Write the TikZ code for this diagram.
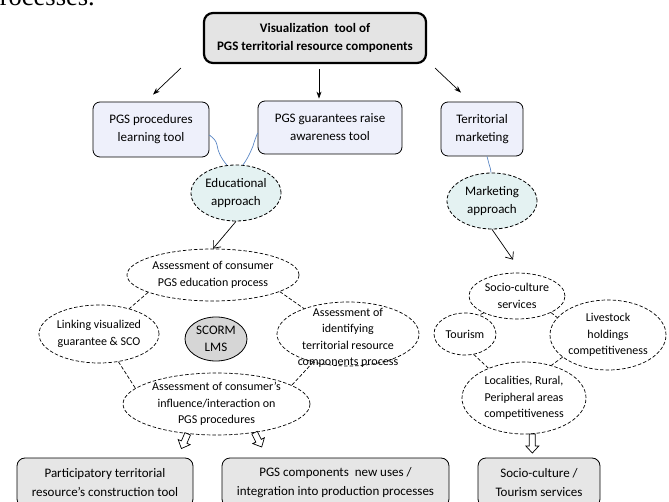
\documentclass[tikz,border=0pt]{standalone}
\usepackage{fontspec}
\setmainfont{Carlito}
\newfontfamily\bodyserif{Liberation Serif}
\usetikzlibrary{shapes.geometric,arrows.meta}

\definecolor{headfill}{HTML}{E4E4E4}
\definecolor{toolfill}{HTML}{EEF0FB}
\definecolor{approachfill}{HTML}{E4F2F2}
\definecolor{lmsfill}{HTML}{D6D6D6}
\definecolor{outfill}{HTML}{E6E6E6}
\definecolor{wireblue}{HTML}{5B87C5}

\begin{document}
\begin{tikzpicture}[x=1pt,y=-1pt,
  every node/.style={inner sep=0pt, align=center},
  headbox/.style={draw, line width=2.2pt, rounded corners=9pt, fill=headfill,
    font=\fontsize{13}{18}\selectfont\bfseries},
  toolbox/.style={draw, line width=0.8pt, rounded corners=7pt, fill=toolfill,
    font=\fontsize{13}{18}\selectfont},
  approach/.style={ellipse, draw, line width=0.8pt, dash pattern=on 3.5pt off 2pt,
    fill=approachfill, inner sep=-30pt, font=\fontsize{13}{18}\selectfont},
  facet/.style={ellipse, draw, line width=0.7pt, dash pattern=on 3.5pt off 2pt,
    inner sep=-30pt, font=\fontsize{12}{16.5}\selectfont},
  lms/.style={ellipse, draw, line width=0.8pt, fill=lmsfill, inner sep=-30pt,
    font=\fontsize{13}{17}\selectfont},
  outbox/.style={draw, line width=0.8pt, rounded corners=8pt, fill=outfill,
    font=\fontsize{13}{19}\selectfont},
  flow/.style={-{Stealth[length=7pt,width=5pt]}, line width=0.7pt},
  flowopen/.style={-{Straight Barb[length=6pt,width=10pt]}, line width=0.7pt},
  tie/.style={line width=0.7pt, dash pattern=on 3.5pt off 2pt},
  wire/.style={wireblue, line width=0.7pt},
  pics/hollow/.style={code={
    \draw[line width=0.7pt, fill=white, line join=miter]
      (0,-3) -- (#1-7,-3) -- (#1-7,-6.5) -- (#1,0) -- (#1-7,6.5) -- (#1-7,3) -- (0,3) -- cycle;}}
]
\useasboundingbox (0,0) rectangle (669,502);
\clip (0,0) rectangle (669,502);

% running text of the page above the figure
\node[anchor=base east, font=\bodyserif\fontsize{26.5}{30}\selectfont] (para) at (95,6) {processes.};

% head of the tree
\node[headbox, minimum width=222pt, minimum height=50pt] (top) at (315,38)
  {Visualization\ \ tool of\\PGS territorial resource components};

% tools
\node[toolbox, minimum width=116pt, minimum height=55pt] (b1) at (151,129.5)
  {PGS procedures\\learning tool};
\node[toolbox, minimum width=144pt, minimum height=53pt] (b2) at (330,127.5)
  {PGS guarantees raise\\awareness tool};
\node[toolbox, minimum width=82pt, minimum height=54pt] (b3) at (482,129)
  {Territorial\\marketing};

% approaches
\node[approach, minimum width=90pt, minimum height=56pt] (edu) at (236,193)
  {Educational\\approach};
\node[approach, minimum width=90pt, minimum height=56pt] (mkt) at (492,201)
  {Marketing\\approach};

% educational branch
\node[facet, minimum width=172pt, minimum height=52pt] (assess) at (213,275)
  {Assessment of consumer\\PGS education process};
\node[facet, minimum width=120pt, minimum height=58pt] (link) at (99,334)
  {Linking visualized\\guarantee \& SCO};
\node[lms, minimum width=62pt, minimum height=44pt] (scorm) at (216,339)
  {SCORM\\LMS};
% the four lines sit a little low in this ellipse
\node[facet, minimum width=142pt, minimum height=64pt] (ident) at (348,334)
  {\raisebox{-6.5pt}[0pt][0pt]{\begin{tabular}{@{}c@{}}Assessment of\\identifying\\territorial resource\\components process\end{tabular}}};
\node[facet, minimum width=187pt, minimum height=62pt] (cons) at (216.5,404)
  {Assessment of consumer's\\influence/interaction on\\PGS procedures};

% marketing branch
\node[facet, minimum width=96pt, minimum height=46pt] (socio) at (517,296)
  {Socio-culture\\services};
\node[facet, minimum width=62pt, minimum height=42pt] (tour) at (465,334)
  {Tourism};
\node[facet, minimum width=116pt, minimum height=70pt] (live) at (608,335)
  {Livestock\\holdings\\competitiveness};
\node[facet, minimum width=124pt, minimum height=72pt] (loc) at (524,398)
  {Localities, Rural,\\Peripheral areas\\competitiveness};

% outcomes
\node[outbox, minimum width=176pt, minimum height=49pt] (outa) at (105,482.5)
  {Participatory territorial\\resource's construction tool};
\node[outbox, minimum width=227pt, minimum height=49pt] (outb) at (335.5,482.5)
  {PGS components\ \ new uses /\\integration into production processes};
\node[outbox, minimum width=122pt, minimum height=49pt] (outc) at (539,482.5)
  {Socio-culture /\\Tourism services};

% arrows from the head
\draw[flow] ([shift={(-22,4)}]top.south west) -- ([shift={(2,-7)}]b1.north);
\draw[flow] ([shift={(4,5)}]top.south) -- ([shift={(-11,-2)}]b2.north);
\draw[flow] ([shift={(8,4)}]top.south east) -- ([shift={(-21,-9)}]b3.north);

% blue ties from tools to approaches
\coordinate (w1) at (217,145);
\coordinate (w2) at (253,146);
\coordinate (w3) at (489,164);
\draw[wire] ([shift={(0,5.5)}]b1.east) .. controls (213,138) and (216,140) .. (w1)
  .. controls (218,152) and (221,158) .. (edu.108);
\draw[wire] ([shift={(0,5.5)}]b2.west) .. controls (256,137) and (254,142) .. (w2)
  .. controls (251,151) and (248,158) .. (edu.76);
\draw[wire] ([shift={(5,0)}]b3.south) .. controls (489,159) and (487,161) .. (w3)
  .. controls (490,167) and (491,170) .. (mkt.92);

% approaches to their facets
\draw[flowopen] (edu.south) -- (assess.north);
\draw[flowopen] (mkt.south) -- ([shift={(-4,-13)}]socio.north);

% dashed links between facets
\draw[tie] (assess.195) -- (link.40);
\draw[tie] (assess.-14) -- (ident.150);
\draw[tie] (link.305) -- (cons.169);
\draw[tie] (ident.219) -- (cons.14);
\draw[tie] (socio.207) -- (tour.53);
\draw[tie] (socio.334) -- (live.161);
\draw[tie] (tour.293) -- (loc.140);
\draw[tie] (live.206) -- (loc.50);

% hollow arrows towards the outcomes
\pic[rotate=246.8] at (cons.226.5) {hollow=16};
\pic[rotate=296.6] at (cons.323) {hollow=16};
\pic[rotate=270] at (loc.283.7) {hollow=19};
\end{tikzpicture}
\end{document}
